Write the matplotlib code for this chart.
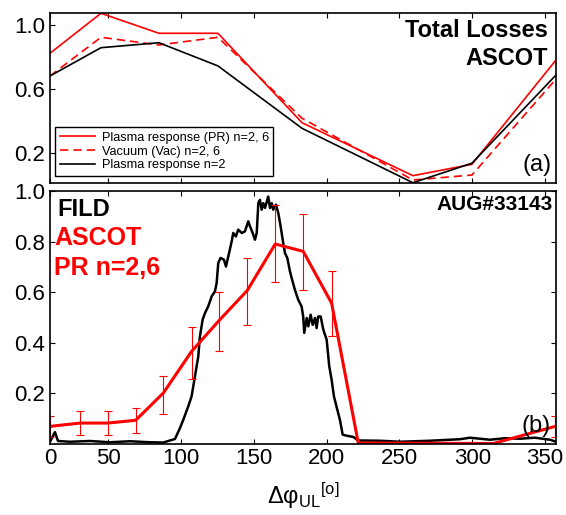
import numpy as np
import matplotlib
matplotlib.use("Agg")
import matplotlib.pyplot as plt

plt.rcParams['font.family'] = ['Liberation Sans', 'DejaVu Sans']
plt.rcParams['mathtext.fontset'] = 'custom'
plt.rcParams['mathtext.rm'] = 'Liberation Sans'
plt.rcParams['mathtext.it'] = 'Liberation Sans:italic'
plt.rcParams['mathtext.bf'] = 'Liberation Sans:bold'

# ---------- DATA ----------
# (a) total losses, ASCOT
phi_tot = [10.2, 45.2, 85.0, 125.5, 183.2, 259.3, 299.8, 357.5]
loss_pr26 = [0.825, 1.075, 0.950, 0.950, 0.391, 0.060, 0.131, 0.783]
loss_vac26 = [0.683, 0.925, 0.877, 0.925, 0.419, 0.033, 0.064, 0.664]
loss_pr2 = [0.683, 0.860, 0.891, 0.746, 0.356, 0.016, 0.138, 0.689]

# (b) FILD signal, AUG#33143
phi_fild = [10.2, 13.6, 15.7, 23.9, 37.6, 51.4, 65.1, 78.8, 88.0, 96.0,
            99.4, 101.7, 105.1, 107.4, 109.7, 112.0, 113.1, 115.0, 116.6, 118.8,
            121.2, 123.4, 124.6, 125.7, 127.3, 129.6, 131.0, 132.6, 134.9, 136.0,
            137.8, 139.4, 141.8, 144.0, 146.3, 147.5, 149.3, 150.9, 152.1, 153.2,
            154.3, 155.5, 156.6, 157.8, 160.0, 161.2, 162.4, 163.4, 165.3, 166.9,
            168.5, 170.3, 171.5, 173.1, 174.9, 176.1, 178.3, 180.6, 182.9, 184.0,
            184.7, 186.4, 187.5, 189.1, 190.5, 192.1, 193.2, 194.3, 196.0, 197.8,
            200.1, 201.9, 203.5, 205.1, 207.4, 209.2, 211.1, 213.8, 218.4, 221.8,
            236.7, 250.4, 271.0, 291.6, 298.4, 312.2, 322.5, 332.8, 343.0, 353.4,
            357.5]
fild = [0.007, 0.045, 0.010, 0.007, 0.010, 0.005, 0.009, 0.005, 0.004, 0.018,
        0.061, 0.094, 0.147, 0.187, 0.266, 0.345, 0.424, 0.491, 0.517, 0.543,
        0.583, 0.602, 0.636, 0.715, 0.735, 0.728, 0.701, 0.741, 0.800, 0.834,
        0.820, 0.847, 0.834, 0.840, 0.880, 0.860, 0.834, 0.807, 0.834, 0.952,
        0.965, 0.926, 0.952, 0.933, 0.978, 0.933, 0.952, 0.926, 0.946, 0.913,
        0.860, 0.794, 0.754, 0.735, 0.682, 0.655, 0.609, 0.569, 0.543, 0.503,
        0.438, 0.497, 0.464, 0.510, 0.470, 0.497, 0.457, 0.503, 0.503, 0.451,
        0.411, 0.305, 0.253, 0.187, 0.134, 0.094, 0.035, 0.031, 0.026, 0.012,
        0.011, 0.007, 0.011, 0.017, 0.023, 0.015, 0.021, 0.019, 0.023, 0.015,
        0.007]

# (b) ASCOT PR n=2,6 with error bars
phi_asc = [10.5, 30.8, 49.8, 69.0, 88.0, 107.4, 126.4, 145.6, 164.8, 184.0,
           203.5, 221.8, 314.4, 357.0]
asc = [0.068, 0.081, 0.081, 0.092, 0.200, 0.365, 0.488, 0.606, 0.790, 0.761,
       0.556, 0.002, 0.000, 0.068]
asc_lo = [0.026, 0.034, 0.034, 0.042, 0.117, 0.255, 0.365, 0.470, 0.640, 0.609,
          0.427, np.nan, np.nan, 0.026]
asc_hi = [0.110, 0.130, 0.130, 0.140, 0.266, 0.461, 0.602, 0.735, 0.946, 0.909,
          0.684, np.nan, np.nan, 0.110]

xtick_pos = [10.2, 50, 100, 150, 200, 250, 300, 350]
xtick_lab = ['0', '50', '100', '150', '200', '250', '300', '350']

# ---------- FIGURE ----------
fig = plt.figure(figsize=(5.66, 5.15), dpi=100)
ax1 = fig.add_axes([0.0883, 0.6452, 0.894, 0.329])
ax2 = fig.add_axes([0.0883, 0.1388, 0.894, 0.4903])

for ax in (ax1, ax2):
    for s in ax.spines.values():
        s.set_linewidth(1.2)
    ax.tick_params(direction='in', length=3.5, width=0.8, labelsize=16, pad=3.5,
                   top=True)
    ax.set_xlim(10.2, 357.5)
    ax.set_xticks(xtick_pos)

# ---- (a) ----
ax1.plot(phi_tot, loss_pr26, color='red', lw=1.2, label='Plasma response (PR) n=2, 6')
ax1.plot(phi_tot, loss_vac26, color='red', lw=1.2, ls=(0, (5, 3)),
         label='Vacuum (Vac) n=2, 6')
ax1.plot(phi_tot, loss_pr2, color='black', lw=1.2, label='Plasma response n=2')
ax1.set_ylim(0.016, 1.075)
ax1.set_yticks([0.2, 0.6, 1.0])
ax1.set_yticklabels(['0.2', '0.6', '1.0'])
ax1.set_xticklabels([])
ax1.tick_params(axis='y', right=False)

leg = ax1.legend(loc='lower left', bbox_to_anchor=(0.01, 0.04), borderaxespad=0,
                 fontsize=9.2, handlelength=2.8, handletextpad=0.5, labelspacing=0.15,
                 borderpad=0.35, fancybox=False, framealpha=1, edgecolor='black')
leg.get_frame().set_linewidth(1.0)

ax1.text(0.984, 0.862, 'Total Losses', transform=ax1.transAxes, ha='right',
         va='baseline', fontsize=17, fontweight='bold')
ax1.text(0.984, 0.695, 'ASCOT', transform=ax1.transAxes, ha='right',
         va='baseline', fontsize=17, fontweight='bold')
ax1.text(0.992, 0.069, '(a)', transform=ax1.transAxes, ha='right',
         va='baseline', fontsize=17)

# ---- (b) ----
ax2.plot(phi_fild, fild, color='black', lw=1.8)
ax2.plot(phi_asc, asc, color='red', lw=2.2)
lo = np.array(asc_lo)
hi = np.array(asc_hi)
y = np.array(asc)
m = ~np.isnan(lo)
ax2.errorbar(np.array(phi_asc)[m], y[m], yerr=[y[m] - lo[m], hi[m] - y[m]],
             fmt='none', ecolor='red', elinewidth=0.8, capsize=3, capthick=0.8)
ax2.set_ylim(0, 1.0)
ax2.set_yticks([0.2, 0.4, 0.6, 0.8, 1.0])
ax2.set_yticklabels(['0.2', '0.4', '0.6', '0.8', '1.0'])
ax2.set_xticklabels(xtick_lab)
ax2.tick_params(axis='y', right=True)

ax2.text(0.014, 0.901, 'FILD', transform=ax2.transAxes, ha='left',
         va='baseline', fontsize=17, fontweight='bold', color='black')
ax2.text(0.008, 0.786, 'ASCOT', transform=ax2.transAxes, ha='left',
         va='baseline', fontsize=18, fontweight='bold', color='red')
ax2.text(0.008, 0.667, 'PR n=2,6', transform=ax2.transAxes, ha='left',
         va='baseline', fontsize=18, fontweight='bold', color='red')
ax2.text(0.994, 0.925, 'AUG#33143', transform=ax2.transAxes, ha='right',
         va='baseline', fontsize=15, fontweight='bold')
ax2.text(0.99, 0.046, '(b)', transform=ax2.transAxes, ha='right',
         va='baseline', fontsize=17)

ax2.set_xlabel(r'$\Delta\mathrm{\varphi}_{\mathrm{UL}}{}^{[\mathrm{o}]}$', fontsize=17,
               labelpad=8)

fig.savefig('out.png', dpi=100)
